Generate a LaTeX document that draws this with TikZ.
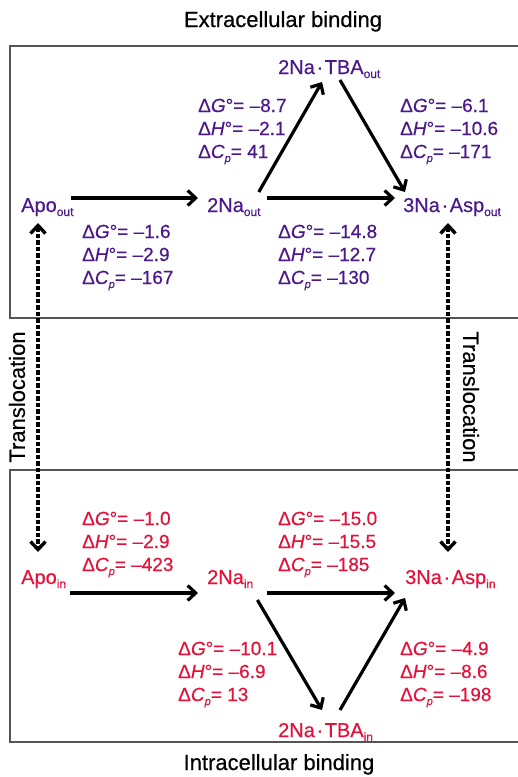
\documentclass[tikz,border=0pt]{standalone}
\usepackage{fontspec}
\setmainfont{Liberation Sans}[UprightFeatures={FakeBold=0.5},ItalicFeatures={FakeBold=0.5}]
\usetikzlibrary{arrows.meta}
\definecolor{pur}{RGB}{75,25,140}
\definecolor{rd}{RGB}{228,18,58}
\definecolor{boxgray}{RGB}{85,85,85}
\newcommand\sbx[1]{\raisebox{-4pt}{\fontsize{12}{12}\selectfont #1}}
\newcommand\psb{\raisebox{-4pt}{\fontsize{11}{11}\selectfont\textit{p}}}
\newcommand\ndot{\kern0.08em·\kern0.08em}
\newcommand\three[3]{\vtop{\baselineskip=23pt\lineskiplimit=-10pt\hbox{Δ\textit{G}°= #1}\hbox{Δ\textit{H}°= #2}\hbox{Δ\textit{C}\psb= #3}}}
\tikzset{
  lbl/.style={inner sep=0pt, anchor=base west, font=\fontsize{20}{24}\selectfont},
  dat/.style={inner sep=0pt, anchor=base west, font=\fontsize{19}{23}\selectfont},
  ttl/.style={inner sep=0pt, font=\fontsize{22}{26}\selectfont, text=black},
  arr/.style={line width=3.2pt, -{Straight Barb[length=8pt,width=15pt]}},
  darr/.style={line width=3.4pt, dash pattern=on 4.5pt off 2pt, {Straight Barb[length=8pt,width=15pt]}-{Straight Barb[length=8pt,width=15pt]}},
  boxline/.style={draw=boxgray, line width=1.5pt}
}
\begin{document}
\begin{tikzpicture}[x=1pt,y=-1pt]
\useasboundingbox (0,0) rectangle (518,777);
% boxes
\draw[boxline] (530,46) -- (10,46) -- (10,318) -- (530,318);
\draw[boxline] (530,470) -- (10,470) -- (10,742) -- (530,742);
% titles
\node[ttl, anchor=base] (t1) at (283,27) {Extracellular binding};
\node[ttl, anchor=base] (t2) at (279,770) {Intracellular binding};
\node[ttl, rotate=90] (tl) at (17,397) {Translocation};
\node[ttl, rotate=-90] (tr) at (471,397) {Translocation};
% upper nodes
\node[lbl, text=pur] (apoout) at (21,212) {Apo\sbx{out}};
\node[lbl, text=pur] (naout) at (207,212) {2Na\sbx{out}};
\node[lbl, text=pur] (aspout) at (403,212) {3Na\ndot Asp\sbx{out}};
\node[lbl, text=pur] (tbaout) at (278,74) {2Na\ndot TBA\sbx{out}};
% lower nodes
\node[lbl, text=rd] (apoin) at (21,584) {Apo\sbx{in}};
\node[lbl, text=rd] (nain) at (207,584) {2Na\sbx{in}};
\node[lbl, text=rd] (aspin) at (405,584) {3Na\ndot Asp\sbx{in}};
\node[lbl, text=rd] (tbain) at (278,737) {2Na\ndot TBA\sbx{in}};
% upper data
\node[dat, text=pur] (d1) at (198,112) {\three{–8.7}{–2.1}{41}};
\node[dat, text=pur] (d2) at (400,112) {\three{–6.1}{–10.6}{–171}};
\node[dat, text=pur] (d3) at (82,238) {\three{–1.6}{–2.9}{–167}};
\node[dat, text=pur] (d4) at (278,238) {\three{–14.8}{–12.7}{–130}};
% lower data
\node[dat, text=rd] (d5) at (82,525) {\three{–1.0}{–2.9}{–423}};
\node[dat, text=rd] (d6) at (278,525) {\three{–15.0}{–15.5}{–185}};
\node[dat, text=rd] (d7) at (178,655) {\three{–10.1}{–6.9}{13}};
\node[dat, text=rd] (d8) at (400,655) {\three{–4.9}{–8.6}{–198}};
% upper arrows
\draw[arr] ([xshift=-3pt,yshift=14pt]apoout.base east) -- ([xshift=-9pt,yshift=14pt]naout.base west);
\draw[arr] ([xshift=6.5pt,yshift=14pt]naout.base east) -- ([xshift=-8pt,yshift=14pt]aspout.base west);
\draw[arr] ([xshift=-2pt,yshift=20pt]naout.base east) -- ([xshift=44pt,yshift=-8pt]tbaout.base west);
\draw[arr] ([xshift=62pt,yshift=-6pt]tbaout.base west) -- ([xshift=2pt,yshift=20pt]aspout.base west);
% lower arrows
\draw[arr] ([xshift=4pt,yshift=-9pt]apoin.base east) -- ([xshift=-9pt,yshift=-9pt]nain.base west);
\draw[arr] ([xshift=14pt,yshift=-9pt]nain.base east) -- ([xshift=-10pt,yshift=-9pt]aspin.base west);
\draw[arr] ([xshift=4pt,yshift=-16pt]nain.base east) -- ([xshift=44pt,yshift=27pt]tbain.base west);
\draw[arr] ([xshift=62pt,yshift=27pt]tbain.base west) -- ([xshift=0pt,yshift=-14pt]aspin.base west);
% translocation arrows
\draw[darr] ([xshift=17pt,yshift=-11pt]apoout.base west) -- ([xshift=17pt,yshift=32pt]apoin.base west);
\draw[darr] ([xshift=45pt,yshift=-11pt]aspout.base west) -- ([xshift=43pt,yshift=32pt]aspin.base west);
\end{tikzpicture}
\end{document}
